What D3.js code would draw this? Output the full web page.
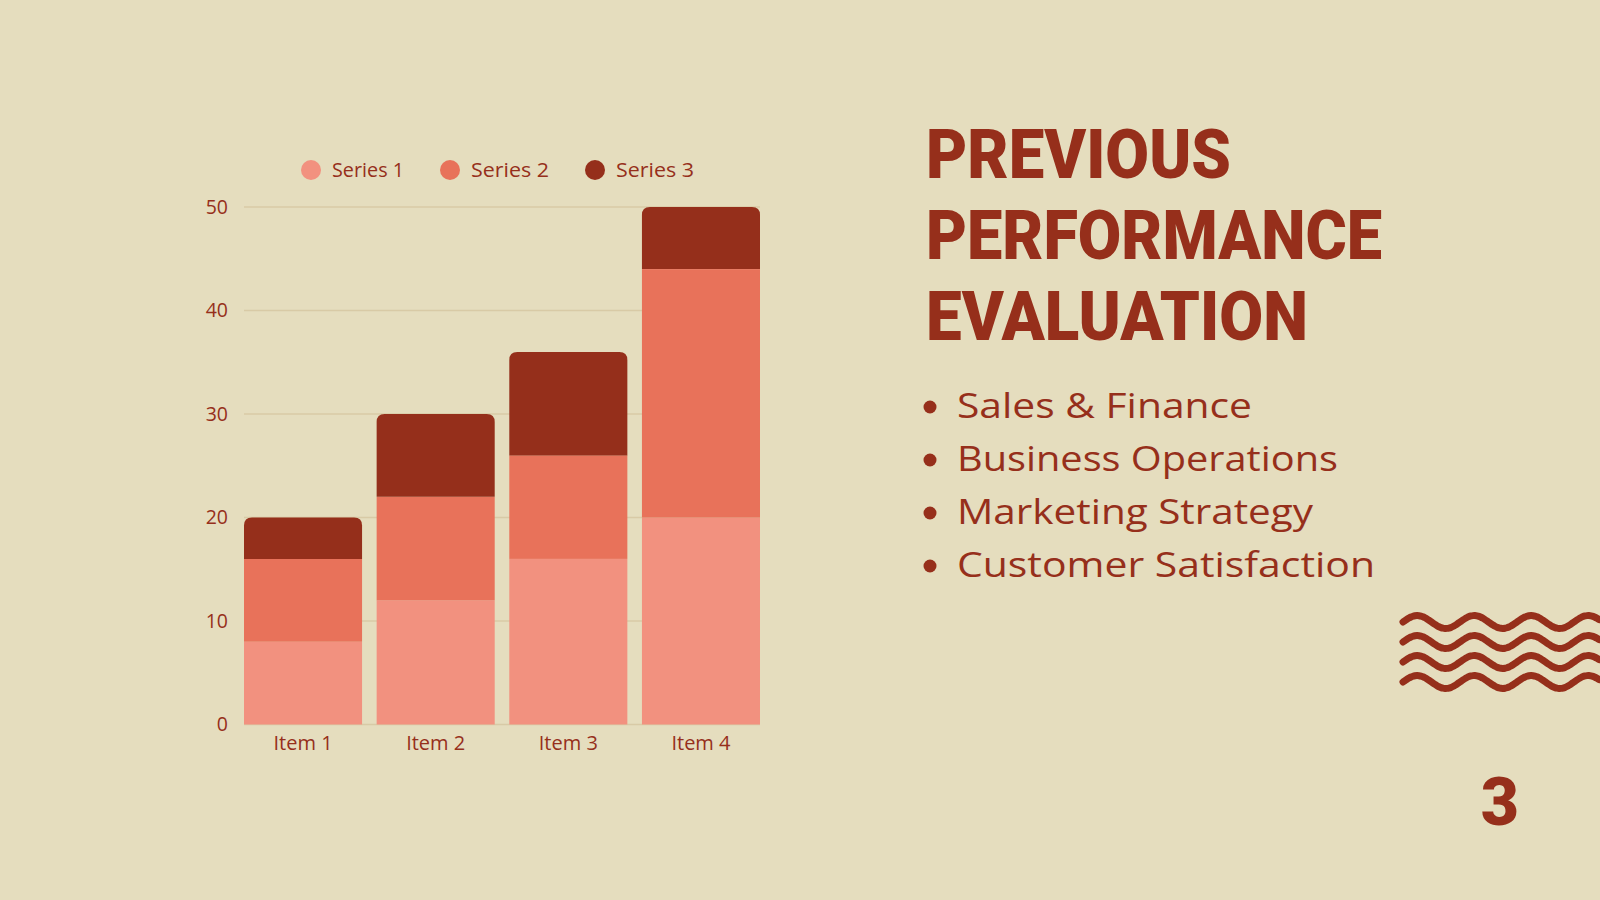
<!DOCTYPE html>
<html>
<head>
<meta charset="utf-8">
<script src="https://cdn.jsdelivr.net/npm/d3@7"></script>
<style>
  html, body { margin: 0; padding: 0; background: #E5DDBE; }
  svg { display: block; }
</style>
</head>
<body>
<svg id="chart" width="1600" height="900"></svg>
<script>
// chart data
const items = ["Item 1", "Item 2", "Item 3", "Item 4"];
const seriesNames = ["Series 1", "Series 2", "Series 3"];
const series1 = [8, 12, 16, 20];
const series2 = [8, 10, 10, 24];
const series3 = [4, 8, 10, 6];
const yTicks = [0, 10, 20, 30, 40, 50];

const titleLines = ["PREVIOUS", "PERFORMANCE", "EVALUATION"];
const bullets = ["Sales & Finance", "Business Operations", "Marketing Strategy", "Customer Satisfaction"];
const pageNumber = "3";

const colors = ["#F2917F", "#E8725A", "#952F1B"];
const textColor = "#962F1B";
const bodyFont = "'Open Sans', 'Noto Sans', sans-serif";

const svg = d3.select("#chart");

// background
svg.append("rect").attr("width", 1600).attr("height", 900).attr("fill", "#E5DDBE");

// scales
const x = d3.scaleBand().domain(items).range([244, 760]).paddingInner(0.11).paddingOuter(0);
const y = d3.scaleLinear().domain([0, 50]).range([724.5, 207]);

// gridlines
svg.append("g").selectAll("line")
  .data(yTicks)
  .enter().append("line")
  .attr("x1", 244).attr("x2", 760)
  .attr("y1", d => y(d)).attr("y2", d => y(d))
  .attr("stroke", "#D8CAA6").attr("stroke-width", 1.5);

// y labels
svg.append("g").selectAll("text")
  .data(yTicks)
  .enter().append("text")
  .attr("x", 228).attr("y", d => y(d))
  .attr("dy", "0.35em")
  .attr("text-anchor", "end")
  .attr("font-family", bodyFont).attr("font-size", 19.5)
  .attr("fill", textColor)
  .text(d => d);

// stacked bars
const rows = items.map((it, i) => ({ item: it, s0: series1[i], s1: series2[i], s2: series3[i] }));
const stack = d3.stack().keys(["s0", "s1", "s2"]);
const layers = stack(rows);
const r = 8;

layers.forEach((layer, li) => {
  const g = svg.append("g").attr("fill", colors[li]);
  layer.forEach(seg => {
    const x0 = x(seg.data.item), w = x.bandwidth();
    const top = y(seg[1]), bot = y(seg[0]);
    if (li === layers.length - 1) {
      // top segment gets rounded top corners
      const p = d3.path();
      p.moveTo(x0, bot);
      p.lineTo(x0, top + r);
      p.quadraticCurveTo(x0, top, x0 + r, top);
      p.lineTo(x0 + w - r, top);
      p.quadraticCurveTo(x0 + w, top, x0 + w, top + r);
      p.lineTo(x0 + w, bot);
      p.closePath();
      g.append("path").attr("d", p.toString());
    } else {
      g.append("rect").attr("x", x0).attr("y", top).attr("width", w).attr("height", bot - top);
    }
  });
});

// x labels
svg.append("g").selectAll("text")
  .data(items)
  .enter().append("text")
  .attr("x", d => x(d) + x.bandwidth() / 2)
  .attr("y", 750)
  .attr("text-anchor", "middle")
  .attr("font-family", bodyFont).attr("font-size", 20)
  .attr("fill", textColor)
  .text(d => d);

// legend
const legendX = [311, 450, 595];
const legendW = [72, 78, 78];
const legend = svg.append("g");
seriesNames.forEach((name, i) => {
  legend.append("circle").attr("cx", legendX[i]).attr("cy", 170).attr("r", 10).attr("fill", colors[i]);
  legend.append("text")
    .attr("x", legendX[i] + 21).attr("y", 170).attr("dy", "0.35em")
    .attr("font-family", bodyFont).attr("font-size", 20)
    .attr("textLength", legendW[i]).attr("lengthAdjust", "spacingAndGlyphs")
    .attr("fill", textColor).text(name);
});

// title
const titleWidths = [305, 456, 382];
svg.append("g").selectAll("text")
  .data(titleLines)
  .enter().append("text")
  .attr("x", 926)
  .attr("y", (d, i) => 178 + i * 81)
  .attr("font-family", "Roboto, 'Liberation Sans', sans-serif")
  .attr("font-weight", 900)
  .attr("font-size", 68)
  .attr("textLength", (d, i) => titleWidths[i])
  .attr("lengthAdjust", "spacingAndGlyphs")
  .attr("fill", textColor)
  .text(d => d);

// bullet list
const bulletWidths = [295, 381, 356, 418];
const bl = svg.append("g");
bullets.forEach((b, i) => {
  const by = 418 + i * 53;
  bl.append("circle").attr("cx", 930).attr("cy", by - 11).attr("r", 6.5).attr("fill", textColor);
  bl.append("text").attr("x", 957).attr("y", by)
    .attr("font-family", bodyFont).attr("font-size", 35)
    .attr("textLength", bulletWidths[i]).attr("lengthAdjust", "spacingAndGlyphs")
    .attr("fill", textColor).text(b);
});

// wave decoration
const waveLine = d3.line().curve(d3.curveBasis);
const waveG = svg.append("g").attr("fill", "none").attr("stroke", textColor)
  .attr("stroke-width", 7).attr("stroke-linecap", "round");
[622, 642, 662, 682].forEach(cy => {
  const pts = d3.range(0, 197, 2).map(dx => [1403 + dx, cy - 6.5 * Math.sin(2 * Math.PI * dx / 57)]);
  waveG.append("path").attr("d", waveLine(pts));
});

// page number
svg.append("text")
  .attr("x", 1500).attr("y", 825)
  .attr("text-anchor", "middle")
  .attr("font-family", "Roboto, 'Liberation Sans', sans-serif")
  .attr("font-weight", 900).attr("font-size", 66)
  .attr("fill", textColor)
  .text(pageNumber);
</script>
</body>
</html>
